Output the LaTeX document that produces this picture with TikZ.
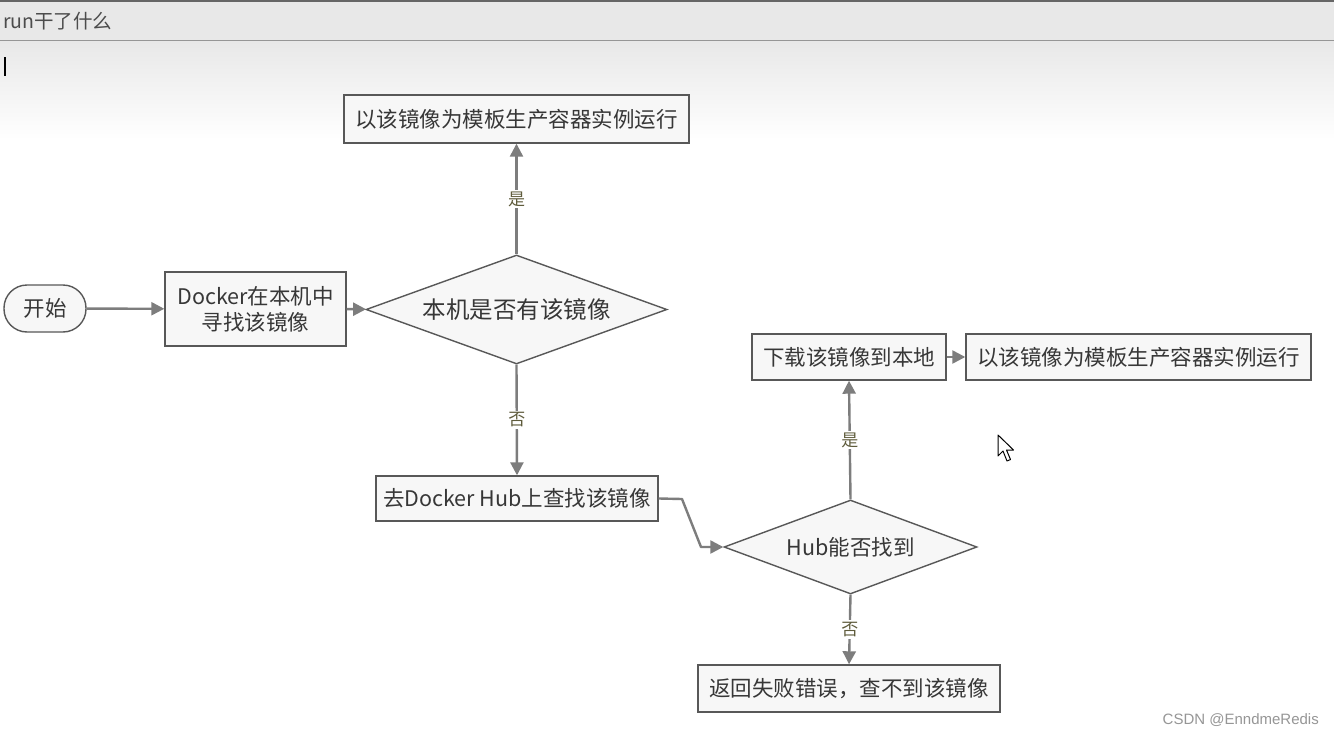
\documentclass[tikz,border=0pt]{standalone}
\usepackage{fontspec}
\setmainfont{Noto Sans CJK SC}
\newfontfamily\wmfont{Liberation Sans}
\usepackage{xcolor}
\definecolor{flline}{RGB}{88,88,88}
\definecolor{flfill}{RGB}{247,247,247}
\definecolor{fltext}{RGB}{55,55,55}
\definecolor{flarrowc}{RGB}{125,125,125}
\definecolor{fllabel}{RGB}{95,92,60}
\definecolor{flbar}{RGB}{232,232,232}
\definecolor{flbarline}{RGB}{150,150,150}
\definecolor{flwm}{RGB}{150,150,150}
\usepackage{tikz}
\usetikzlibrary{arrows.meta, positioning, shapes.geometric}

\begin{document}
\begin{tikzpicture}[x=1pt, y=-1pt,
  flbox/.style={draw=flline, fill=flfill, line width=1.4pt, inner sep=0pt,
    text=fltext, font=\fontsize{21.5}{26}\selectfont, align=center},
  fldiamond/.style={diamond, draw=flline, fill=flfill, line width=1.4pt, inner sep=0pt,
    text=fltext, font=\fontsize{21.5}{26}\selectfont},
  flarrow/.style={-{Triangle[length=13pt,width=13pt]}, draw=flarrowc, line width=2.4pt, line join=round},
  fllab/.style={fill=white, inner sep=2pt, text=fllabel, font=\fontsize{17}{19}\selectfont}]

\useasboundingbox (0,0) rectangle (1334,736);

% --- Window background ---
\fill[white] (0,0) rectangle (1334,736);
\shade[top color=flbar, bottom color=white] (0,41) rectangle (1334,140);
\fill[flbar] (0,2) rectangle (1334,40);
\draw[flbarline, line width=1pt] (0,40.5) -- (1334,40.5);
\draw[black!60, line width=2pt] (0,1) -- (1334,1);
\node[anchor=west, text=black!70, font=\fontsize{19.5}{22}\selectfont, inner sep=0pt] (title) at (3,21) {run干了什么};
\draw[black, line width=1.3pt] (5,57) -- (5,76);

% --- Local lookup ---
\node[flbox, rounded corners=23pt, minimum width=82pt, minimum height=47pt] (start) at (45,308.5) {开始};
\node[flbox, minimum width=181pt, minimum height=74pt] (localfind) at (255.5,309) {Docker在本机中\\寻找该镜像};
\node[fldiamond, aspect=2.76, minimum width=301pt, minimum height=109pt, font=\fontsize{23.5}{27}\selectfont] (haslocal) at (516.5,309.5) {本机是否有该镜像};
\node[flbox, minimum width=345pt, minimum height=48pt] (runlocal) at (516.5,119) {以该镜像为模板生产容器实例运行};

\draw[flarrow] (start) -- (localfind);
\draw[flarrow] (localfind) -- (haslocal);
\draw[flarrow] (haslocal.north) -- node[fllab] {是} (runlocal.south);

% --- Docker Hub lookup ---
\node[flbox, minimum width=282pt, minimum height=45pt] (hubsearch) at (517,498.5) {去Docker Hub上查找该镜像};
\node[fldiamond, aspect=2.69, minimum width=253pt, minimum height=94pt] (hubfind) at (850.5,547) {Hub能否找到};
\coordinate (bendA) at (682,499);
\coordinate (bendB) at (701,547);

\draw[flarrow] (haslocal.south) -- node[fllab] {否} (hubsearch.north);
\draw[flarrow] (hubsearch.east) -- (bendA) -- (bendB) -- (hubfind.west);

% --- Pull and run / fail ---
\node[flbox, minimum width=194pt, minimum height=46pt] (pull) at (849,357) {下载该镜像到本地};
\node[flbox, minimum width=345pt, minimum height=46pt] (runpulled) at (1138.5,357) {以该镜像为模板生产容器实例运行};
\node[flbox, minimum width=302pt, minimum height=47pt] (fail) at (849,688.5) {返回失败错误，查不到该镜像};

\draw[flarrow] (hubfind.north) -- node[fllab] {是} (pull.south);
\draw[flarrow] (pull) -- (runpulled);
\draw[flarrow] (hubfind.south) -- node[fllab] {否} (fail.north);

% mouse pointer
\draw[black, fill=white, line width=1pt, line join=round]
  (998,435) -- (998,456) -- (1003,451) -- (1007,461) -- (1010.5,459.5) -- (1006.5,450) -- (1013.5,450) -- cycle;

% watermark
\node[anchor=east, text=flwm, font=\wmfont\fontsize{15}{18}\selectfont, inner sep=0pt] (mark) at (1319,720) {CSDN @EnndmeRedis};

\end{tikzpicture}
\end{document}
